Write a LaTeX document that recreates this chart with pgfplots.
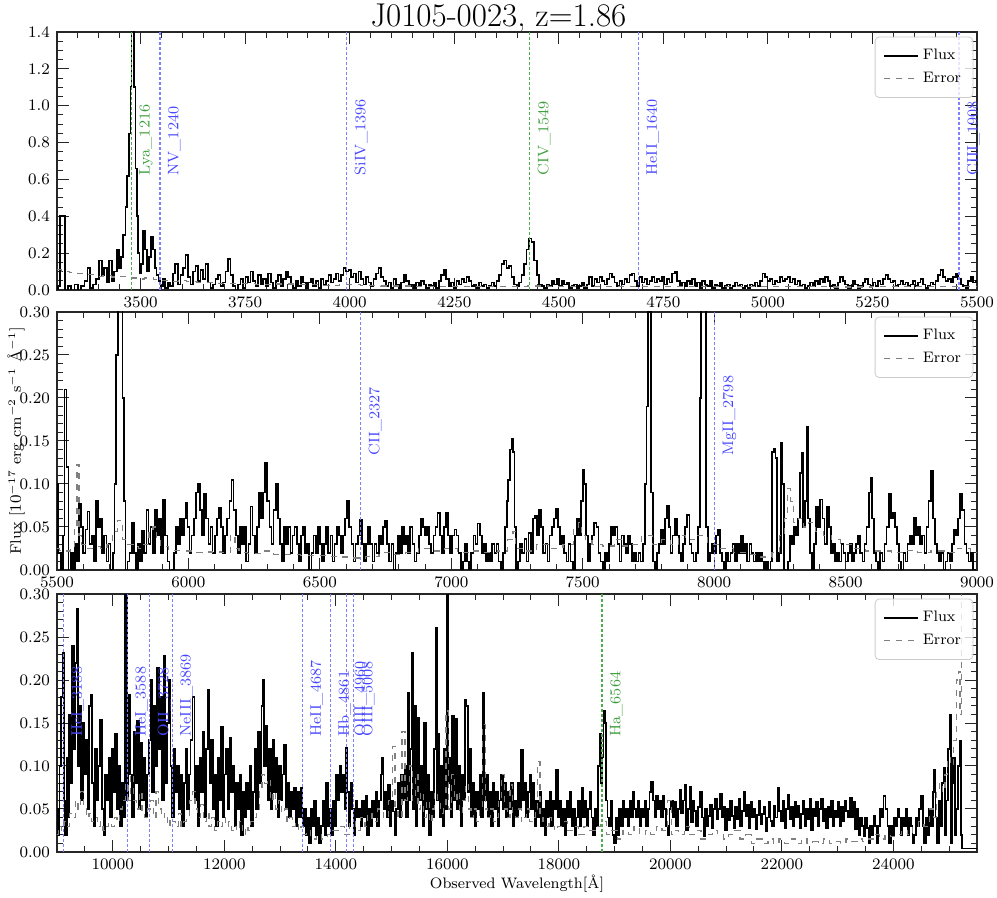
\documentclass[border=0pt]{standalone}
\usepackage{pgfplots}
\pgfplotsset{compat=1.18}
\definecolor{lblue}{rgb}{0.5,0.5,1}
\definecolor{tblue}{rgb}{0.28,0.28,1}
\definecolor{lgreen}{rgb}{0.3,0.68,0.3}
\definecolor{tgreen}{rgb}{0.25,0.62,0.25}
\newcommand{\fs}{\fontsize{7.6}{9}\selectfont}
\pgfplotsset{
  spec/.style={width=460pt, height=129pt, scale only axis, clip mode=individual,
    tick align=inside, major tick length=6pt, minor tick length=3pt,
    every tick/.style={black!85, line width=0.5pt},
    axis line style={black!85, line width=0.6pt},
    tick label style={font=\fs},
    scaled x ticks=false,
    x tick label style={/pgf/number format/1000 sep={}},
    legend cell align=left,
    legend image post style={sharp plot},
    legend style={at={(0.996,0.982)}, anchor=north east, draw=black!20, rounded corners=2pt,
      fill=white, fill opacity=0.8, text opacity=1, draw opacity=1, font=\fs,
      row sep=0.8pt, inner xsep=4pt, inner ysep=4pt},
  },
  flux/.style={black, line width=0.85pt, const plot mark mid},
  err/.style={black!50, dashed, line width=0.6pt, const plot mark mid},
  vb/.style={lblue, dash pattern=on 1.5pt off 1pt, line width=0.6pt, forget plot},
  vg/.style={lgreen, dash pattern=on 1.5pt off 1pt, line width=0.75pt, forget plot},
}
\tikzset{
  lb/.style={rotate=90, anchor=north west, inner xsep=0pt, inner ysep=3.8pt, text=tblue, font=\fs},
  lg/.style={rotate=90, anchor=north west, inner xsep=0pt, inner ysep=3.8pt, text=tgreen, font=\fs},
}
\begin{document}
\begin{tikzpicture}
\path[use as bounding box] (-28.5pt,-304pt) rectangle (470pt,145pt);
\node[anchor=base, font=\fontsize{16.5}{19}\selectfont] at (220.75pt,131.5pt) {J0105-0023, z=1.86};
\node[rotate=90, font=\fs] at (-20.5pt,-75.5pt) {Flux [$10^{-17}$ erg cm$^{-2}$ s$^{-1}$ Å$^{-1}$]};
\node[anchor=base, font=\fs] at (230pt,-299.5pt) {Observed Wavelength[Å]};
% ---------------- Panel 1 ----------------
\begin{axis}[spec, at={(0pt,0pt)}, anchor=south west,
  xmin=3300, xmax=5500, ymin=0, ymax=1.4,
  xtick={3500,3750,4000,4250,4500,4750,5000,5250,5500},
  minor xtick={3300,3350,...,5500},
  ytick={0,0.2,0.4,0.6,0.8,1.0,1.2,1.4},
  minor ytick={0,0.05,...,1.4},
  y tick label style={/pgf/number format/.cd, fixed, fixed zerofill, precision=1},
]
\addplot[flux] table {
3300 0.00
3305 0.02
3310 0.40
3316 0.40
3322 -0.02
3330 0.02
3338 -0.01
3346 0.03
3354 -0.02
3362 0.02
3370 0.05
3376 0.12
3382 0.01
3390 0.03
3398 0.06
3404 0.16
3410 0.08
3416 0.12
3422 0.04
3428 0.16
3434 0.05
3440 0.10
3446 0.22
3451 0.12
3456 0.18
3461 0.30
3466 0.45
3470 0.62
3474 0.85
3477 1.10
3480 1.45
3483 1.50
3486 1.10
3489 0.66
3492 0.40
3495 0.20
3499 0.09
3504 0.14
3508 0.32
3513 0.22
3517 0.10
3522 0.18
3527 0.29
3532 0.22
3536 0.12
3540 0.08
3545 0.05
3550 0.02
3556 0.06
3562 0.01
3568 0.04
3574 0.02
3580 0.09
3586 0.14
3592 0.03
3598 0.08
3604 0.12
3610 0.19
3616 0.07
3622 0.03
3628 0.10
3634 0.13
3640 0.05
3646 0.11
3652 0.06
3658 0.14
3664 0.04
3670 0.01
3676 0.03
3682 0.06
3688 0.08
3694 0.02
3700 0.04
3706 0.10
3712 0.17
3718 0.08
3724 0.02
3730 -0.01
3736 0.03
3742 0.06
3748 0.01
3754 0.07
3760 0.04
3766 0.10
3772 0.05
3778 0.02
3784 0.08
3790 0.03
3796 0.06
3802 0.02
3808 0.09
3814 0.04
3820 0.01
3826 0.05
3832 0.08
3838 0.02
3844 0.06
3850 0.10
3856 0.07
3862 0.03
3868 0.01
3874 0.05
3880 0.02
3886 0.07
3892 0.04
3898 0.01
3904 0.04
3910 0.06
3916 0.02
3922 0.05
3928 0.01
3934 0.06
3940 0.03
3946 0.05
3952 0.08
3958 0.04
3964 0.06
3970 0.09
3976 0.05
3982 0.08
3988 0.12
3994 0.10
4000 0.11
4006 0.07
4012 0.09
4018 0.04
4024 0.10
4030 0.06
4036 0.03
4042 0.07
4048 0.04
4054 0.02
4060 0.06
4066 0.09
4072 0.12
4078 0.07
4084 0.05
4090 0.02
4096 0.04
4102 0.01
4108 0.06
4114 0.03
4120 0.01
4126 0.04
4132 0.08
4138 0.05
4144 0.02
4150 0.03
4156 0.01
4162 0.04
4168 0.02
4174 0.05
4180 0.03
4186 0.01
4192 0.03
4198 0.02
4204 0.04
4210 0.01
4216 0.05
4222 0.08
4228 0.11
4234 0.06
4240 0.02
4246 0.04
4252 0.01
4258 0.05
4264 0.03
4270 0.06
4276 0.04
4282 0.07
4288 0.05
4294 0.02
4300 0.03
4306 0.01
4312 0.04
4318 0.02
4324 0.03
4330 0.01
4336 0.02
4342 0.04
4348 0.02
4354 0.05
4360 0.08
4366 0.14
4372 0.16
4378 0.12
4384 0.13
4390 0.07
4396 0.03
4402 0.02
4408 0.04
4414 0.08
4420 0.14
4426 0.22
4432 0.28
4438 0.26
4444 0.16
4450 0.08
4456 0.03
4462 0.02
4468 0.01
4474 0.03
4480 0.02
4486 0.05
4492 0.03
4498 0.06
4504 0.02
4510 0.05
4516 0.03
4522 0.04
4528 0.01
4534 0.02
4540 0.03
4546 0.01
4552 0.02
4558 0.04
4564 0.01
4570 0.03
4576 0.07
4582 0.02
4588 0.06
4594 0.04
4600 0.07
4606 0.05
4612 0.03
4618 0.06
4624 0.09
4630 0.07
4636 0.04
4642 0.02
4648 0.05
4654 0.03
4660 0.06
4666 0.04
4672 0.08
4678 0.09
4684 0.05
4690 0.02
4696 0.07
4702 0.04
4708 0.06
4714 0.03
4720 0.05
4726 0.07
4732 0.04
4738 0.06
4744 0.05
4750 0.07
4756 0.03
4762 0.06
4768 0.04
4774 0.09
4780 0.10
4786 0.05
4792 0.02
4798 0.04
4804 0.02
4810 0.05
4816 0.03
4822 0.06
4828 0.02
4834 0.04
4840 0.01
4846 0.05
4852 0.03
4858 0.02
4864 0.05
4870 0.01
4876 0.03
4882 0.02
4888 0.04
4894 0.01
4900 0.02
4906 0.03
4912 0.01
4918 0.02
4924 0.04
4930 0.02
4936 0.03
4942 0.01
4948 0.02
4954 0.01
4960 0.03
4966 0.02
4972 0.04
4978 0.02
4984 0.05
4990 0.09
4996 0.07
5002 0.05
5008 0.06
5014 0.03
5020 0.05
5026 0.04
5032 0.07
5038 0.05
5044 0.06
5050 0.07
5056 0.04
5062 0.06
5068 0.03
5074 0.05
5080 0.02
5086 0.03
5092 0.01
5098 0.02
5104 0.04
5110 0.02
5116 0.05
5122 0.03
5128 0.06
5134 0.04
5140 0.07
5146 0.05
5152 0.02
5158 0.03
5164 0.01
5170 0.04
5176 0.07
5182 0.05
5188 0.03
5194 0.01
5200 0.02
5206 0.05
5212 0.03
5218 0.01
5224 0.02
5230 0.04
5236 0.06
5242 0.03
5248 0.02
5254 0.04
5260 0.02
5266 0.05
5272 0.03
5278 0.06
5284 0.08
5290 0.06
5296 0.04
5302 0.05
5308 0.02
5314 0.03
5320 0.05
5326 0.03
5332 0.04
5338 0.02
5344 0.03
5350 0.05
5356 0.02
5362 0.04
5368 0.06
5374 0.03
5380 0.01
5386 0.02
5392 0.04
5398 0.03
5404 0.05
5410 0.08
5416 0.11
5422 0.07
5428 0.05
5434 0.06
5440 0.04
5446 0.07
5452 0.09
5458 0.06
5464 0.03
5470 0.02
5476 0.01
5482 0.05
5488 0.07
5494 0.04
5500 0.05
};
\addlegendentry{Flux}
\addplot[err] table {
3300 0.11
3320 0.10
3340 0.095
3360 0.09
3380 0.085
3400 0.075
3420 0.078
3440 0.07
3460 0.072
3480 0.065
3500 0.06
3520 0.065
3540 0.055
3560 0.05
3580 0.045
3600 0.05
3620 0.045
3650 0.04
3700 0.036
3750 0.035
3800 0.03
3850 0.032
3900 0.028
3950 0.025
4000 0.03
4050 0.025
4100 0.022
4200 0.02
4300 0.018
4400 0.02
4450 0.022
4500 0.018
4600 0.017
4700 0.02
4800 0.018
4900 0.017
5000 0.018
5100 0.017
5200 0.016
5300 0.018
5400 0.017
5500 0.02
};
\addlegendentry{Error}
\addplot[vg] coordinates {(3477.8,0) (3477.8,1.4)};
\addplot[vb] coordinates {(3546.4,0) (3546.4,1.4)};
\addplot[vb] coordinates {(3992.6,0) (3992.6,1.4)};
\addplot[vg] coordinates {(4430.1,0) (4430.1,1.4)};
\addplot[vb] coordinates {(4690.4,0) (4690.4,1.4)};
\addplot[vb] coordinates {(5456.9,0) (5456.9,1.4)};
\node[lg] at (axis cs:3477.8,0.62) {Lya\_1216};
\node[lb] at (axis cs:3546.4,0.62) {NV\_1240};
\node[lb] at (axis cs:3992.6,0.62) {SiIV\_1396};
\node[lg] at (axis cs:4430.1,0.62) {CIV\_1549};
\node[lb] at (axis cs:4690.4,0.62) {HeII\_1640};
\node[lb] at (axis cs:5456.9,0.62) {CIII\_1908};
\end{axis}
% ---------------- Panel 2 ----------------
\begin{axis}[spec, at={(0pt,-140pt)}, anchor=south west,
  xmin=5500, xmax=9000, ymin=0, ymax=0.3,
  xtick={5500,6000,6500,7000,7500,8000,8500,9000},
  minor xtick={5500,5600,...,9000},
  ytick={0,0.05,0.1,0.15,0.2,0.25,0.3},
  minor ytick={0,0.01,...,0.3},
  y tick label style={/pgf/number format/.cd, fixed, fixed zerofill, precision=2},
]
\addplot[flux] table {
5500 0.10
5510 0.02
5518 0.00
5526 0.04
5532 0.21
5540 0.12
5548 -0.02
5556 0.02
5564 -0.01
5572 0.03
5580 0.01
5588 0.077
5596 0.05
5604 0.02
5612 0.047
5620 0.068
5628 0.03
5636 0.04
5644 0.01
5652 0.08
5660 0.05
5668 0.06
5676 0.02
5684 0.04
5692 0.01
5700 0.03
5708 0.00
5716 0.02
5722 0.10
5728 0.25
5734 0.45
5740 0.60
5746 0.40
5752 0.20
5758 0.08
5764 -0.01
5772 0.01
5780 0.02
5788 0.055
5796 0.02
5804 -0.01
5812 0.03
5820 0.01
5828 0.045
5836 0.02
5844 0.07
5852 0.03
5860 0.05
5868 0.02
5876 0.07
5884 0.04
5892 0.06
5900 0.02
5908 0.082
5916 0.04
5924 0.01
5932 -0.01
5940 0.00
5948 0.02
5956 0.05
5964 0.03
5972 0.06
5980 0.04
5988 0.06
5994 0.078
6000 0.05
6008 0.02
6016 0.04
6024 0.06
6032 0.09
6040 0.10
6048 0.07
6056 0.04
6064 0.088
6072 0.06
6080 0.03
6088 0.05
6096 0.02
6104 0.04
6112 0.06
6120 0.072
6128 0.05
6136 0.02
6144 0.04
6152 0.06
6160 0.08
6168 0.105
6176 0.07
6184 0.04
6192 0.02
6200 0.05
6208 0.03
6216 0.05
6224 0.01
6232 0.03
6240 0.074
6248 0.04
6256 0.02
6264 0.05
6272 0.09
6280 0.06
6288 0.09
6296 0.125
6304 0.08
6312 0.05
6320 0.03
6328 0.07
6336 0.10
6344 0.06
6352 0.03
6360 0.01
6368 0.05
6376 0.03
6384 0.05
6392 0.02
6400 0.04
6408 0.05
6416 0.03
6424 0.01
6432 0.04
6440 0.05
6448 0.02
6456 0.03
6464 0.00
6472 0.02
6480 0.04
6488 0.02
6496 0.05
6504 0.03
6512 0.01
6520 0.03
6528 0.05
6536 0.02
6544 0.04
6552 0.01
6560 0.03
6568 0.05
6576 0.04
6584 0.02
6592 0.04
6600 0.06
6608 0.08
6616 0.05
6624 0.03
6632 0.01
6640 0.03
6648 0.04
6656 0.058
6664 0.03
6672 0.01
6680 0.03
6688 0.05
6696 0.03
6704 0.01
6712 0.03
6720 0.02
6728 0.04
6736 0.03
6744 0.05
6752 0.057
6760 0.03
6768 0.01
6776 0.03
6784 0.00
6792 0.02
6800 0.04
6808 0.02
6816 0.05
6824 0.03
6832 0.04
6840 0.02
6848 0.05
6856 0.03
6864 0.01
6872 0.02
6880 0.04
6888 0.06
6896 0.05
6904 0.04
6912 0.05
6920 0.03
6928 0.02
6936 0.04
6944 0.05
6952 0.066
6960 0.04
6968 0.02
6976 0.05
6984 0.066
6992 0.04
7000 0.02
7008 0.04
7016 0.047
7024 0.04
7032 0.02
7040 0.00
7048 0.01
7056 0.03
7064 0.01
7072 -0.01
7080 0.02
7088 0.04
7096 0.03
7104 0.054
7112 0.04
7120 0.02
7128 0.03
7136 0.01
7144 0.02
7152 0.01
7160 0.03
7168 0.02
7176 0.03
7184 0.01
7192 -0.01
7200 0.02
7208 0.05
7214 0.08
7220 0.105
7226 0.14
7232 0.153
7238 0.137
7244 0.05
7250 -0.01
7258 0.01
7266 0.03
7274 0.02
7282 0.036
7290 0.01
7298 0.043
7306 0.02
7314 0.06
7322 0.063
7330 0.04
7338 0.07
7346 0.05
7354 0.02
7362 0.03
7370 0.01
7378 0.04
7386 0.05
7394 0.06
7402 0.071
7410 0.05
7418 0.03
7426 0.04
7434 0.02
7442 0.01
7450 0.03
7458 0.01
7466 -0.01
7474 0.04
7482 0.059
7490 0.04
7498 0.08
7504 0.117
7510 0.10
7516 0.04
7524 0.01
7532 0.03
7540 0.04
7548 0.055
7556 0.05
7564 0.02
7572 0.01
7580 0.00
7588 0.02
7596 0.01
7604 0.03
7612 0.05
7620 0.04
7628 0.05
7636 0.03
7644 0.01
7652 0.04
7660 0.03
7668 0.02
7676 0.04
7684 0.03
7692 0.01
7700 0.02
7708 0.01
7716 0.02
7724 0.01
7732 0.03
7740 0.10
7746 0.19
7752 0.40
7758 0.30
7764 0.09
7770 0.01
7778 -0.01
7786 0.02
7794 0.03
7802 0.047
7810 0.03
7818 0.06
7824 0.075
7830 0.05
7838 0.02
7846 0.04
7854 0.059
7862 0.04
7870 0.02
7878 0.01
7886 0.03
7894 0.05
7902 0.064
7910 0.03
7918 0.02
7926 0.01
7934 0.02
7942 0.05
7948 0.20
7954 0.50
7960 0.60
7966 0.40
7972 0.05
7980 0.01
7988 0.02
7996 0.03
8004 0.02
8012 0.04
8018 0.047
8026 0.02
8034 0.01
8042 0.00
8050 0.02
8058 0.01
8066 0.02
8074 0.03
8082 0.01
8090 0.03
8098 0.02
8106 0.04
8114 0.02
8122 0.03
8130 0.01
8138 0.03
8146 0.02
8154 0.01
8162 0.02
8170 0.01
8178 0.02
8186 0.01
8194 0.00
8202 0.01
8210 -0.01
8218 0.01
8224 0.137
8230 0.141
8236 0.13
8242 0.01
8250 0.02
8256 0.148
8262 0.10
8268 0.00
8276 -0.01
8284 0.01
8292 0.04
8300 0.03
8308 0.05
8316 0.04
8324 0.06
8330 0.113
8336 0.136
8342 0.05
8348 0.08
8354 0.167
8360 0.06
8368 0.02
8376 0.00
8384 0.03
8392 0.074
8400 0.05
8408 0.082
8416 0.06
8424 0.03
8432 0.073
8440 0.05
8448 0.02
8456 0.03
8464 0.01
8472 0.02
8480 0.01
8488 0.03
8496 0.02
8504 0.01
8512 0.02
8520 0.03
8528 0.01
8536 0.02
8544 0.03
8552 0.04
8560 0.02
8568 0.01
8576 0.03
8584 0.05
8592 0.09
8598 0.107
8604 0.06
8612 0.02
8620 0.01
8628 0.00
8636 0.02
8644 0.01
8652 0.03
8660 0.05
8668 0.089
8676 0.06
8684 0.067
8692 0.05
8700 0.03
8708 0.01
8716 0.00
8724 0.02
8732 0.01
8740 0.03
8748 0.04
8756 0.03
8764 0.061
8772 0.04
8780 0.05
8788 0.03
8796 0.04
8804 0.02
8812 0.05
8820 0.08
8828 0.115
8836 0.06
8844 0.03
8852 0.02
8860 0.01
8868 0.02
8876 0.00
8884 0.01
8892 0.02
8900 0.01
8908 0.03
8916 0.047
8924 0.04
8932 0.06
8940 0.088
8948 0.07
8956 0.03
8964 0.02
8972 0.01
8980 0.02
8988 0.00
8996 -0.01
};
\addlegendentry{Flux}
\addplot[err] table {
5500 0.025
5520 0.023
5540 0.022
5560 0.025
5572 0.05
5580 0.123
5588 0.04
5600 0.03
5620 0.025
5650 0.027
5680 0.025
5700 0.03
5720 0.045
5740 0.058
5760 0.035
5780 0.03
5800 0.027
5820 0.025
5840 0.03
5860 0.045
5870 0.05
5885 0.035
5900 0.027
5950 0.023
6000 0.022
6050 0.02
6100 0.021
6150 0.02
6170 0.04
6185 0.025
6200 0.02
6250 0.019
6300 0.022
6350 0.018
6400 0.018
6450 0.017
6500 0.017
6550 0.016
6600 0.015
6650 0.014
6700 0.016
6750 0.02
6800 0.018
6850 0.02
6900 0.025
6950 0.022
7000 0.025
7050 0.02
7100 0.022
7150 0.02
7200 0.022
7230 0.035
7240 0.045
7250 0.025
7300 0.022
7350 0.03
7400 0.025
7450 0.03
7480 0.05
7490 0.055
7500 0.04
7520 0.035
7550 0.03
7600 0.028
7640 0.035
7660 0.028
7700 0.03
7750 0.04
7780 0.03
7820 0.035
7850 0.03
7880 0.04
7900 0.035
7950 0.04
8000 0.03
8050 0.025
8100 0.02
8150 0.018
8200 0.015
8240 0.02
8260 0.04
8275 0.06
8285 0.095
8295 0.08
8310 0.055
8330 0.06
8350 0.05
8370 0.055
8400 0.045
8430 0.04
8460 0.035
8500 0.03
8550 0.025
8600 0.022
8650 0.022
8700 0.02
8750 0.023
8800 0.02
8850 0.022
8900 0.02
8950 0.025
9000 0.02
};
\addlegendentry{Error}
\addplot[vb] coordinates {(6655.2,0) (6655.2,0.3)};
\addplot[vb] coordinates {(8002.3,0) (8002.3,0.3)};
\node[lb] at (axis cs:6655.2,0.133) {CII\_2327};
\node[lb] at (axis cs:8002.3,0.133) {MgII\_2798};
\end{axis}
% ---------------- Panel 3 ----------------
\begin{axis}[spec, at={(0pt,-281pt)}, anchor=south west,
  xmin=9000, xmax=25500, ymin=0, ymax=0.3,
  xtick={10000,12000,14000,16000,18000,20000,22000,24000},
  minor xtick={9000,9500,...,25500},
  ytick={0,0.05,0.1,0.15,0.2,0.25,0.3},
  minor ytick={0,0.01,...,0.3},
  y tick label style={/pgf/number format/.cd, fixed, fixed zerofill, precision=2},
]
\addplot[flux] table {
9000 0.05
9030 0.02
9060 0.10
9090 0.18
9110 0.232
9130 0.06
9160 0.02
9190 0.11
9210 0.04
9230 0.16
9260 0.08
9290 0.24
9310 0.12
9340 0.22
9370 0.283
9390 0.10
9420 0.17
9450 0.06
9480 0.15
9500 0.09
9530 0.13
9560 0.05
9590 0.17
9610 0.183
9640 0.08
9670 0.03
9700 0.12
9730 0.06
9760 0.10
9790 0.154
9820 0.05
9850 0.02
9880 0.09
9910 0.06
9940 0.11
9970 0.04
10000 0.12
10030 0.07
10060 0.137
10090 0.05
10120 0.10
10150 0.03
10180 0.08
10210 0.04
10235 0.45
10250 0.50
10270 0.06
10300 0.183
10330 0.09
10360 0.04
10390 0.14
10420 0.08
10450 0.152
10480 0.05
10510 0.127
10540 0.06
10570 0.11
10600 0.04
10630 0.09
10660 0.13
10690 0.20
10720 0.07
10750 0.17
10780 0.10
10810 0.214
10840 0.12
10870 0.18
10900 0.06
10930 0.228
10960 0.08
10990 0.15
11020 0.20
11050 0.10
11080 0.04
11110 0.12
11140 0.07
11170 0.10
11200 0.05
11230 0.09
11260 0.03
11290 0.08
11320 0.12
11350 0.05
11380 0.09
11410 0.13
11450 0.18
11480 0.06
11510 0.10
11540 0.03
11570 0.11
11600 0.07
11630 0.14
11660 0.04
11690 0.12
11720 0.189
11750 0.08
11780 0.13
11810 0.05
11840 0.09
11870 0.03
11900 0.11
11930 0.06
11960 0.145
11990 0.04
12020 0.09
12050 0.12
12080 0.05
12110 0.133
12140 0.07
12170 0.10
12200 0.03
12230 0.08
12260 0.05
12290 0.09
12320 0.02
12350 0.07
12380 0.04
12410 0.08
12440 0.05
12470 0.10
12500 0.03
12530 0.07
12560 0.12
12590 0.05
12620 0.14
12650 0.08
12680 0.17
12700 0.20
12730 0.10
12760 0.147
12790 0.06
12820 0.12
12850 0.05
12880 0.13
12910 0.07
12940 0.11
12970 0.04
13000 0.10
13030 0.06
13060 0.09
13090 0.125
13120 0.05
13150 0.08
13180 0.04
13210 0.07
13240 0.05
13270 0.075
13300 0.03
13330 0.07
13360 0.04
13390 0.075
13420 0.03
13450 0.05
13480 0.02
13510 0.04
13540 0.01
13570 0.05
13600 0.03
13630 0.06
13660 0.02
13690 0.04
13720 0.01
13750 0.03
13780 0.06
13810 0.02
13840 0.08
13870 0.03
13900 0.05
13930 0.02
13960 0.06
13990 0.03
14020 0.09
14050 0.06
14080 0.10
14110 0.07
14140 0.09
14170 0.05
14196 0.121
14220 0.07
14250 0.03
14280 0.08
14310 0.05
14340 0.02
14370 0.06
14400 0.04
14430 0.05
14460 0.03
14490 0.06
14520 0.04
14550 0.065
14580 0.02
14610 0.05
14640 0.03
14670 0.06
14700 0.04
14730 0.07
14760 0.03
14790 0.06
14820 0.09
14840 0.11
14870 0.05
14900 0.07
14930 0.04
14955 0.078
14980 0.03
15010 0.06
15040 0.047
15070 0.02
15100 0.05
15130 0.08
15160 0.04
15190 0.09
15220 0.06
15250 0.10
15280 0.04
15300 0.185
15320 0.06
15350 0.12
15373 0.232
15395 0.05
15420 0.17
15450 0.03
15480 0.156
15510 0.06
15540 0.10
15570 0.03
15600 0.15
15630 0.05
15660 0.09
15690 0.02
15720 0.07
15750 0.04
15780 0.12
15803 0.261
15825 0.06
15850 0.137
15875 0.04
15900 0.10
15930 0.03
15960 0.12
15985 0.05
16000 0.32
16015 0.08
16040 0.11
16070 0.04
16100 0.158
16130 0.06
16160 0.155
16190 0.05
16220 0.10
16250 0.03
16280 0.09
16310 0.06
16328 0.177
16350 0.17
16380 0.07
16410 0.12
16440 0.04
16470 0.08
16500 0.03
16530 0.07
16560 0.05
16590 0.09
16620 0.04
16657 0.185
16680 0.06
16710 0.09
16740 0.04
16770 0.07
16800 0.03
16830 0.08
16860 0.05
16890 0.07
16920 0.03
16950 0.06
16980 0.09
17010 0.05
17040 0.08
17070 0.04
17100 0.07
17130 0.05
17160 0.08
17190 0.03
17220 0.06
17250 0.04
17280 0.08
17310 0.05
17343 0.119
17370 0.06
17400 0.08
17430 0.04
17460 0.07
17490 0.09
17520 0.05
17550 0.08
17580 0.03
17610 0.06
17640 0.04
17670 0.07
17700 0.03
17730 0.05
17760 0.02
17790 0.06
17820 0.04
17850 0.07
17880 0.03
17910 0.06
17940 0.05
17970 0.096
18000 0.04
18030 0.06
18060 0.03
18090 0.05
18120 0.02
18150 0.06
18180 0.04
18210 0.07
18240 0.03
18270 0.05
18300 0.02
18330 0.04
18360 0.06
18390 0.03
18418 0.075
18450 0.04
18480 0.06
18510 0.03
18540 0.05
18570 0.07
18600 0.04
18630 0.02
18660 0.05
18690 0.03
18720 0.10
18746 0.137
18770 0.08
18790 0.11
18815 0.164
18840 0.15
18860 0.06
18890 0.04
18920 0.03
18950 0.06
18980 0.02
19010 0.01
19040 0.04
19070 0.02
19100 0.05
19130 0.03
19160 0.06
19190 0.04
19220 0.05
19250 0.03
19280 0.06
19310 0.04
19340 0.07
19370 0.05
19400 0.04
19430 0.06
19460 0.03
19490 0.05
19520 0.04
19550 0.06
19580 0.03
19610 0.05
19640 0.07
19670 0.082
19700 0.06
19730 0.04
19760 0.065
19790 0.05
19820 0.06
19850 0.04
19880 0.065
19910 0.05
19940 0.03
19970 0.02
20000 0.05
20030 0.06
20060 0.04
20090 0.058
20120 0.03
20150 0.05
20180 0.072
20210 0.045
20240 0.06
20273 0.078
20300 0.025
20330 0.05
20360 0.076
20390 0.035
20420 0.06
20450 0.048
20480 0.03
20510 0.052
20545 0.07
20580 0.04
20610 0.018
20640 0.05
20670 0.03
20700 0.042
20730 0.055
20760 0.028
20790 0.05
20820 0.062
20850 0.038
20880 0.05
20910 0.068
20940 0.04
20970 0.052
21000 0.025
21030 0.05
21060 0.037
21090 0.06
21120 0.042
21150 0.028
21180 0.053
21210 0.038
21240 0.062
21270 0.03
21300 0.048
21333 0.07
21360 0.042
21390 0.055
21420 0.028
21450 0.058
21480 0.04
21510 0.05
21540 0.026
21570 0.043
21600 0.06
21630 0.032
21660 0.044
21690 0.052
21720 0.024
21750 0.04
21780 0.058
21810 0.036
21840 0.03
21870 0.054
21900 0.04
21939 0.075
21970 0.048
22000 0.036
22030 0.06
22060 0.028
22090 0.05
22120 0.066
22150 0.038
22180 0.052
22210 0.03
22240 0.058
22270 0.04
22300 0.054
22330 0.028
22360 0.044
22390 0.06
22420 0.03
22450 0.05
22480 0.038
22510 0.062
22540 0.025
22570 0.05
22600 0.042
22630 0.058
22660 0.03
22690 0.05
22720 0.062
22750 0.036
22780 0.05
22810 0.028
22840 0.052
22870 0.04
22900 0.06
22930 0.03
22960 0.048
22990 0.04
23020 0.058
23050 0.03
23080 0.052
23110 0.036
23140 0.06
23170 0.048
23200 0.04
23242 0.063
23270 0.04
23300 0.058
23330 0.026
23360 0.05
23390 0.02
23420 0.04
23450 0.03
23480 0.018
23510 0.04
23540 0.028
23570 0.01
23600 0.03
23630 0.02
23660 0.042
23690 0.03
23720 0.01
23750 0.03
23780 0.05
23810 0.04
23840 0.065
23880 0.05
23910 0.03
23940 0.01
23970 0.03
24000 0.02
24030 0.04
24060 0.03
24090 0.05
24120 0.04
24150 0.02
24180 0.04
24210 0.03
24240 0.05
24270 0.02
24300 0.04
24330 0.03
24360 0.01
24390 0.02
24420 0.04
24450 0.03
24480 0.05
24515 0.065
24540 0.03
24570 0.01
24600 0.04
24630 0.02
24660 0.05
24690 0.03
24720 0.07
24745 0.096
24770 0.04
24800 0.01
24830 0.06
24860 0.03
24890 0.08
24910 0.098
24930 0.02
24960 0.06
24990 0.12
25018 0.16
25040 0.01
25060 0.08
25090 0.11
25110 0.02
25140 0.05
25170 0.10
25200 0.129
25220 0.02
25240 0.004
25500 0.004
};
\addlegendentry{Flux}
\addplot[err] table {
9000 0.02
9050 0.03
9100 0.025
9150 0.035
9200 0.03
9250 0.045
9300 0.04
9350 0.06
9400 0.05
9450 0.07
9500 0.05
9550 0.04
9600 0.045
9650 0.035
9700 0.04
9750 0.03
9800 0.035
9850 0.025
9900 0.03
9950 0.035
10000 0.03
10050 0.04
10100 0.035
10150 0.05
10200 0.06
10250 0.08
10300 0.06
10350 0.09
10400 0.06
10450 0.05
10500 0.07
10550 0.045
10600 0.04
10650 0.05
10700 0.06
10750 0.04
10800 0.07
10850 0.05
10900 0.04
10950 0.045
11000 0.03
11050 0.04
11100 0.035
11150 0.03
11200 0.045
11250 0.03
11300 0.035
11350 0.04
11400 0.06
11450 0.07
11500 0.05
11550 0.04
11600 0.055
11650 0.035
11700 0.045
11750 0.03
11800 0.04
11850 0.025
11900 0.035
11950 0.03
12000 0.04
12050 0.03
12100 0.035
12150 0.025
12200 0.03
12250 0.025
12300 0.035
12350 0.02
12400 0.03
12450 0.025
12500 0.035
12550 0.04
12600 0.05
12650 0.07
12700 0.09
12750 0.08
12800 0.085
12850 0.06
12900 0.07
12950 0.05
13000 0.06
13050 0.045
13100 0.05
13150 0.035
13200 0.04
13250 0.03
13300 0.035
13350 0.025
13400 0.03
13450 0.02
13500 0.025
13600 0.015
13700 0.02
13800 0.015
13900 0.02
14000 0.025
14100 0.03
14200 0.02
14300 0.035
14400 0.025
14500 0.04
14550 0.03
14600 0.045
14700 0.035
14800 0.05
14900 0.04
15000 0.06
15045 0.123
15080 0.05
15150 0.04
15224 0.14
15260 0.06
15300 0.08
15350 0.10
15400 0.06
15450 0.09
15500 0.05
15550 0.07
15600 0.04
15650 0.06
15700 0.035
15750 0.05
15800 0.07
15850 0.06
15900 0.045
15950 0.05
16000 0.164
16040 0.05
16100 0.09
16150 0.06
16200 0.07
16250 0.045
16300 0.06
16350 0.08
16400 0.05
16450 0.04
16500 0.05
16550 0.035
16600 0.05
16657 0.148
16700 0.05
16750 0.04
16800 0.05
16850 0.035
16900 0.04
16950 0.06
17000 0.09
17050 0.05
17100 0.04
17150 0.078
17200 0.045
17250 0.04
17300 0.05
17350 0.035
17400 0.04
17450 0.05
17500 0.035
17550 0.04
17600 0.05
17642 0.105
17680 0.04
17750 0.035
17800 0.03
17850 0.04
17900 0.03
17950 0.025
18000 0.03
18100 0.035
18200 0.025
18300 0.03
18400 0.02
18500 0.03
18600 0.025
18700 0.03
18800 0.035
18900 0.02
19000 0.025
19100 0.015
19200 0.025
19300 0.02
19400 0.03
19500 0.02
19600 0.025
19700 0.02
19800 0.03
19900 0.025
20000 0.06
20030 0.02
20100 0.025
20200 0.02
20300 0.03
20400 0.02
20500 0.025
20600 0.015
20700 0.02
20800 0.025
20900 0.02
21000 0.015
21100 0.02
21200 0.025
21300 0.015
21400 0.02
21500 0.01
21600 0.015
21700 0.01
21800 0.015
21900 0.01
22000 0.015
22100 0.01
22200 0.015
22300 0.01
22400 0.015
22500 0.01
22600 0.012
22700 0.01
22800 0.015
22900 0.01
23000 0.012
23100 0.01
23200 0.015
23300 0.012
23400 0.015
23500 0.012
23600 0.015
23700 0.02
23800 0.015
23900 0.02
24000 0.018
24100 0.02
24200 0.025
24300 0.02
24400 0.03
24500 0.035
24600 0.03
24700 0.05
24750 0.04
24800 0.07
24850 0.08
24900 0.07
24950 0.09
25000 0.11
25050 0.10
25100 0.13
25150 0.20
25180 0.21
25210 0.16
25240 0.50
};
\addlegendentry{Error}
\addplot[vb] coordinates {(9117.7,0) (9117.7,0.3)};
\addplot[vb] coordinates {(10261.7,0) (10261.7,0.3)};
\addplot[vb] coordinates {(10662.1,0) (10662.1,0.3)};
\addplot[vb] coordinates {(11065.3,0) (11065.3,0.3)};
\addplot[vb] coordinates {(13404.8,0) (13404.8,0.3)};
\addplot[vb] coordinates {(13902.5,0) (13902.5,0.3)};
\addplot[vb] coordinates {(14185.6,0) (14185.6,0.3)};
\addplot[vb] coordinates {(14322.9,0) (14322.9,0.3)};
\addplot[vg] coordinates {(18773.0,0) (18773.0,0.3)};
\node[lb] at (axis cs:9117.7,0.134) {HeI\_3188};
\node[lb] at (axis cs:10261.7,0.134) {HeI\_3588};
\node[lb] at (axis cs:10662.1,0.134) {OII\_3728};
\node[lb] at (axis cs:11065.3,0.134) {NeIII\_3869};
\node[lb] at (axis cs:13404.8,0.134) {HeII\_4687};
\node[lb] at (axis cs:13902.5,0.134) {Hb\_4861};
\node[lb] at (axis cs:14185.6,0.134) {OIII\_4960};
\node[lb] at (axis cs:14322.9,0.134) {OIII\_5008};
\node[lg] at (axis cs:18773.0,0.134) {Ha\_6564};
\end{axis}
\end{tikzpicture}
\end{document}
